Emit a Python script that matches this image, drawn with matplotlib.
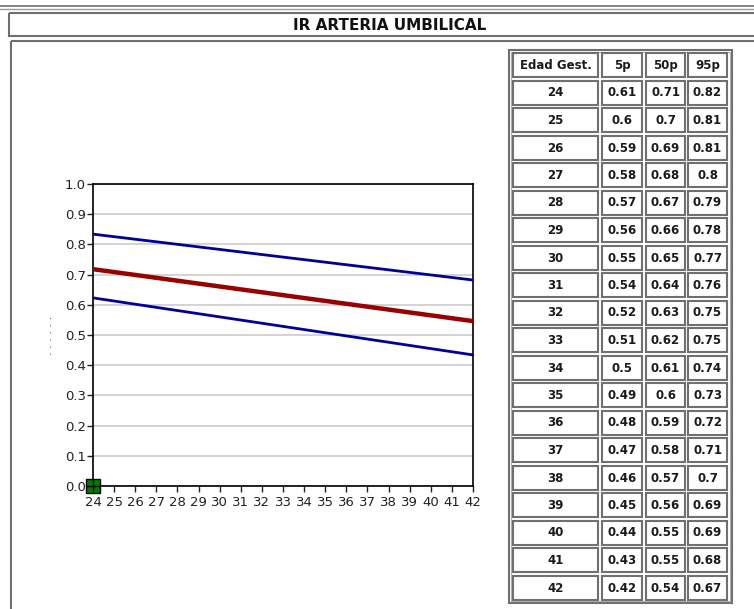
"""IR arteria umbilical: percentile curves with reference table."""

from matplotlib import pyplot
from matplotlib.patches import Rectangle

# Percentiles of the umbilical artery resistance index by gestational age.
weeks = [24, 25, 26, 27, 28, 29, 30, 31, 32, 33,
         34, 35, 36, 37, 38, 39, 40, 41, 42]
p5 = [0.61, 0.6, 0.59, 0.58, 0.57, 0.56, 0.55, 0.54, 0.52, 0.51,
      0.5, 0.49, 0.48, 0.47, 0.46, 0.45, 0.44, 0.43, 0.42]
p50 = [0.71, 0.7, 0.69, 0.68, 0.67, 0.66, 0.65, 0.64, 0.63, 0.62,
       0.61, 0.6, 0.59, 0.58, 0.57, 0.56, 0.55, 0.55, 0.54]
p95 = [0.82, 0.81, 0.81, 0.8, 0.79, 0.78, 0.77, 0.76, 0.75, 0.75,
       0.74, 0.73, 0.72, 0.71, 0.7, 0.69, 0.69, 0.68, 0.67]
headers = ['Edad Gest.', '5p', '50p', '95p']

# The chart draws straight fitted curves at both ends.
curve_weeks = [24, 42]
curve_95 = [0.834, 0.682]
curve_50 = [0.718, 0.546]
curve_5 = [0.623, 0.434]

patient_week, patient_ir = [24], [0.0]

W, H = 754, 609
fig = pyplot.figure(figsize=(W / 100, H / 100), dpi=100)

# Background layer in pixel coordinates for the page boxes and the table.
bg = fig.add_axes([0, 0, 1, 1])
bg.set_xlim(0, W)
bg.set_ylim(H, 0)
bg.axis('off')

border = dict(fill=False, edgecolor='#707070', linewidth=1.5)
bg.plot([0, W], [6, 6], color='#6e6e6e', linewidth=1.2)
bg.plot([0, W], [9, 9], color='#9a9a9a', linewidth=1.0)
bg.add_patch(Rectangle((9, 13), 760, 23, **border))
bg.add_patch(Rectangle((11, 41), 760, 580, **border))
bg.text(390, 25, 'IR ARTERIA UMBILICAL', ha='center', va='center',
        fontsize=11, fontweight='bold', color='#111111')

# Table.
col_x = [(513, 598), (602, 642), (646, 685), (688, 727)]
row_top, row_pitch, row_h = 53, 27.5, 24
bg.add_patch(Rectangle((508.5, 50), 223, 553, **border))
bg.add_patch(Rectangle((510.5, 52), 219, 549, fill=False,
                       edgecolor='#b0b0b0', linewidth=0.8))
rows = [headers] + [[str(w), f'{a:g}', f'{b:g}', f'{c:g}']
                    for w, a, b, c in zip(weeks, p5, p50, p95)]
for i, row in enumerate(rows):
    y0 = row_top + i * row_pitch
    for (x0, x1), txt in zip(col_x, row):
        bg.add_patch(Rectangle((x0, y0), x1 - x0, row_h, **border))
        bg.text((x0 + x1) / 2, y0 + row_h / 2 + 0.5, txt, ha='center',
                va='center', fontsize=8.5, fontweight='bold',
                color='#1a1a1a')

# Chart.
ax = fig.add_axes([93 / W, 1 - 486 / H, 380 / W, 302 / H])
ax.plot(curve_weeks, curve_95, color='#000099', linewidth=2, zorder=3)
ax.plot(curve_weeks, curve_50, color='#990000', linewidth=3.2, zorder=3)
ax.plot(curve_weeks, curve_5, color='#000099', linewidth=2, zorder=3)
ax.plot(patient_week, patient_ir, marker='s', markersize=9.5,
        markerfacecolor='#007a00', markeredgecolor='black',
        markeredgewidth=1, linestyle='none', zorder=5, clip_on=False)
ax.plot(patient_week, patient_ir, marker='+', markersize=9.5,
        color='black', markeredgewidth=1, linestyle='none', zorder=6,
        clip_on=False)
ax.set_xlim(24, 42)
ax.set_ylim(0, 1)
ax.set_xticks(weeks)
ax.set_yticks([i / 10 for i in range(11)])
ax.set_yticklabels([f'{i / 10:.1f}' for i in range(11)])
ax.yaxis.grid(True, color='#cccccc', linewidth=1.2)
ax.set_axisbelow(True)
for side in ax.spines.values():
    side.set_color('black')
    side.set_linewidth(1.2)
ax.tick_params(direction='out', length=4, width=1, labelsize=9.5,
               pad=1, colors='#222222')
ax.tick_params(axis='x', pad=3)
ax.set_ylabel('. . . . . .', fontsize=8, color='#444444', labelpad=8)

fig.savefig('out.png', dpi=100)
